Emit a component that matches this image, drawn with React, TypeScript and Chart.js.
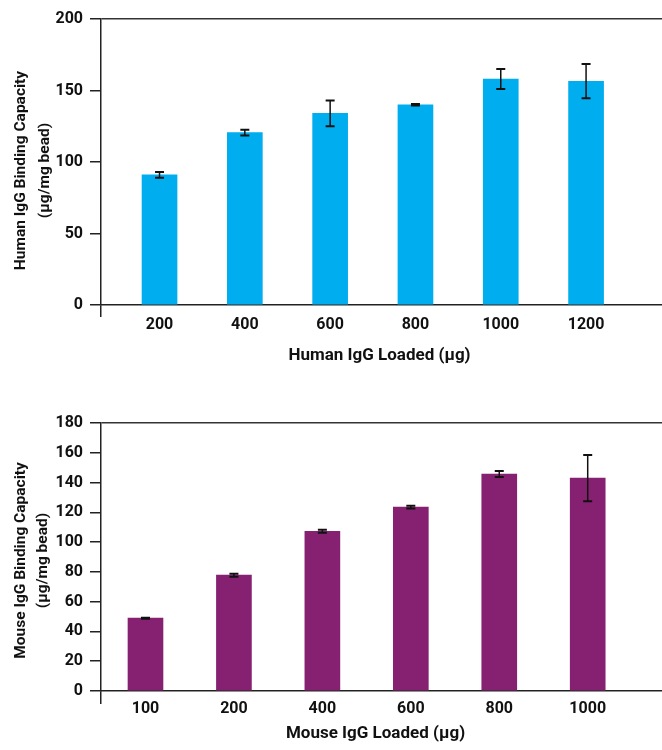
import React, { useEffect, useRef } from 'react';
import { Chart, registerables } from 'chart.js';

Chart.register(...registerables);

const FONT = "Roboto, 'Liberation Sans', Arial, sans-serif";

// ---- Human IgG data ----
const humanLoaded = ['200', '400', '600', '800', '1000', '1200'];
const humanCapacity = [91, 120.5, 134, 140, 158, 156.5];
const humanError = [2, 2, 9, 0.5, 7, 12];
const humanYTicks = [0, 50, 100, 150, 200];

// ---- Mouse IgG data ----
const mouseLoaded = ['100', '200', '400', '600', '800', '1000'];
const mouseCapacity = [48.9, 77.8, 107.3, 123.5, 145.7, 143];
const mouseError = [0.3, 1, 1, 1, 2, 15.5];
const mouseYTicks = [0, 20, 40, 60, 80, 100, 120, 140, 160, 180];

const errorBarPlugin = {
  id: 'errorBars',
  afterDatasetsDraw(chart: any, _args: any, opts: any) {
    const errors: number[] = opts.errors || [];
    const meta = chart.getDatasetMeta(0);
    const yScale = chart.scales.y;
    const data = chart.data.datasets[0].data as any[];
    const ctx = chart.ctx;
    const w = opts.capHalf;
    ctx.save();
    ctx.strokeStyle = opts.color;
    meta.data.forEach((el: any, i: number) => {
      const v = data[i].y;
      const e = errors[i];
      const x = el.x;
      const yT = yScale.getPixelForValue(v + e);
      const yB = yScale.getPixelForValue(v - e);
      ctx.lineWidth = opts.lineWidth;
      ctx.beginPath();
      ctx.moveTo(x, yT);
      ctx.lineTo(x, yB);
      ctx.stroke();
      ctx.lineWidth = opts.capWidth;
      ctx.beginPath();
      ctx.moveTo(x - w, yT);
      ctx.lineTo(x + w, yT);
      ctx.moveTo(x - w, yB);
      ctx.lineTo(x + w, yB);
      ctx.stroke();
    });
    ctx.restore();
  },
};

const axisTitlePlugin = {
  id: 'axisTitles',
  afterDraw(chart: any, _args: any, opts: any) {
    const ctx = chart.ctx;
    const { top, bottom, left, right } = chart.chartArea;
    ctx.save();
    ctx.fillStyle = opts.color;
    ctx.textAlign = 'center';
    ctx.textBaseline = 'alphabetic';
    // y title (rotated)
    ctx.font = `${opts.weight} ${opts.ySize}px ${FONT}`;
    const cy = (top + bottom) / 2 + opts.yShift;
    opts.yLines.forEach((line: string, i: number) => {
      ctx.save();
      ctx.translate(opts.yBaselines[i], cy);
      ctx.rotate(-Math.PI / 2);
      ctx.fillText(line, 0, 0);
      ctx.restore();
    });
    // x title
    ctx.font = `${opts.weight} ${opts.xSize}px ${FONT}`;
    ctx.fillText(opts.xText, (left + right) / 2 + opts.xShift, opts.xBaseline);
    ctx.restore();
  },
};

type Cfg = {
  labels: string[];
  values: number[];
  errors: number[];
  yTicks: number[];
  color: string;
  xMin: number;
  xMax: number;
  padTop: number;
  xAxisHeight: number;
  xTickLen: number;
  xTickPad: number;
  yLines: string[];
  yBaselines: number[];
  yShift: number;
  xText: string;
  xBaseline: number;
  xShift: number;
};

function buildConfig(c: Cfg): any {
  const yMax = c.yTicks[c.yTicks.length - 1];
  const step = c.yTicks[1] - c.yTicks[0];
  const tickFont = { family: FONT, size: 16, weight: 'bold' as const, lineHeight: 1 };
  return {
    type: 'bar',
    data: {
      datasets: [
        {
          data: c.values.map((v, i) => ({ x: i, y: v })),
          backgroundColor: c.color,
          borderWidth: 0,
          barThickness: 35,
        },
      ],
    },
    options: {
      responsive: false,
      animation: false,
      layout: { padding: { top: c.padTop, left: 0, right: 0, bottom: 0 } },
      plugins: {
        legend: { display: false },
        tooltip: { enabled: false },
        errorBars: { errors: c.errors, color: '#111', lineWidth: 1.5, capWidth: 2, capHalf: 4.5 },
        axisTitles: {
          color: '#111',
          weight: 'bold',
          ySize: 15.5,
          xSize: 17,
          yLines: c.yLines,
          yBaselines: c.yBaselines,
          yShift: c.yShift,
          xText: c.xText,
          xBaseline: c.xBaseline,
          xShift: c.xShift,
        },
      },
      scales: {
        x: {
          type: 'linear',
          min: c.xMin,
          max: c.xMax,
          offset: false,
          afterBuildTicks: (scale: any) => {
            scale.ticks = [{ value: c.xMin }, ...c.labels.map((_, i) => ({ value: i }))];
          },
          afterFit: (scale: any) => {
            scale.height = c.xAxisHeight;
          },
          ticks: {
            autoSkip: false,
            maxRotation: 0,
            padding: c.xTickPad,
            color: '#111',
            font: tickFont,
            callback: (v: number) => (Number.isInteger(v) && v >= 0 ? c.labels[v] : ''),
          },
          grid: {
            offset: false,
            drawOnChartArea: false,
            drawTicks: true,
            tickLength: c.xTickLen,
            lineWidth: 1.5,
            color: 'transparent',
            tickColor: (ctx: any) => (ctx.index === 0 ? '#222' : 'transparent'),
          },
          border: { display: true, color: '#222', width: 1.5 },
        },
        y: {
          min: 0,
          max: yMax,
          afterBuildTicks: (scale: any) => {
            scale.ticks = c.yTicks.map((v) => ({ value: v }));
          },
          afterFit: (scale: any) => {
            scale.width = 101;
          },
          ticks: {
            stepSize: step,
            padding: 7,
            color: '#111',
            font: tickFont,
          },
          grid: {
            drawTicks: true,
            tickLength: 11,
            lineWidth: 1.5,
            color: (ctx: any) => (ctx.tick && ctx.tick.value === yMax ? '#333' : 'transparent'),
            tickColor: '#222',
          },
          border: { display: true, color: '#222', width: 1.5 },
        },
      },
    },
    plugins: [errorBarPlugin, axisTitlePlugin],
  };
}

function BarChart({ cfg }: { cfg: Cfg }) {
  const ref = useRef<HTMLCanvasElement | null>(null);
  useEffect(() => {
    if (!ref.current) return;
    const chart = new Chart(ref.current, buildConfig(cfg));
    return () => chart.destroy();
  }, [cfg]);
  return <canvas ref={ref} width={662} height={375} style={{ display: 'block', width: 662, height: 375 }} />;
}

const humanCfg: Cfg = {
  labels: humanLoaded,
  values: humanCapacity,
  errors: humanError,
  yTicks: humanYTicks,
  color: '#00ADEE',
  xMin: -0.686,
  xMax: 5.89,
  padTop: 19,
  xAxisHeight: 70,
  xTickLen: 12,
  xTickPad: 0,
  yLines: ['Human IgG Binding Capacity', '(µg/mg bead)'],
  yBaselines: [24.5, 48.5],
  yShift: 8.5,
  xText: 'Human IgG Loaded (µg)',
  xBaseline: 360,
  xShift: -2,
};

const mouseCfg: Cfg = {
  labels: mouseLoaded,
  values: mouseCapacity,
  errors: mouseError,
  yTicks: mouseYTicks,
  color: '#862171',
  xMin: -0.503,
  xMax: 5.84,
  padTop: 48,
  xAxisHeight: 59,
  xTickLen: 13,
  xTickPad: -3,
  yLines: ['Mouse IgG Binding Capacity', '(µg/mg bead)'],
  yBaselines: [24.5, 46.5],
  yShift: 3.5,
  xText: 'Mouse IgG Loaded (µg)',
  xBaseline: 363,
  xShift: -6,
};

export default function App() {
  return (
    <div style={{ position: 'absolute', top: 0, left: 0, width: 662, height: 750, background: '#fff' }}>
      <BarChart cfg={humanCfg} />
      <BarChart cfg={mouseCfg} />
    </div>
  );
}
